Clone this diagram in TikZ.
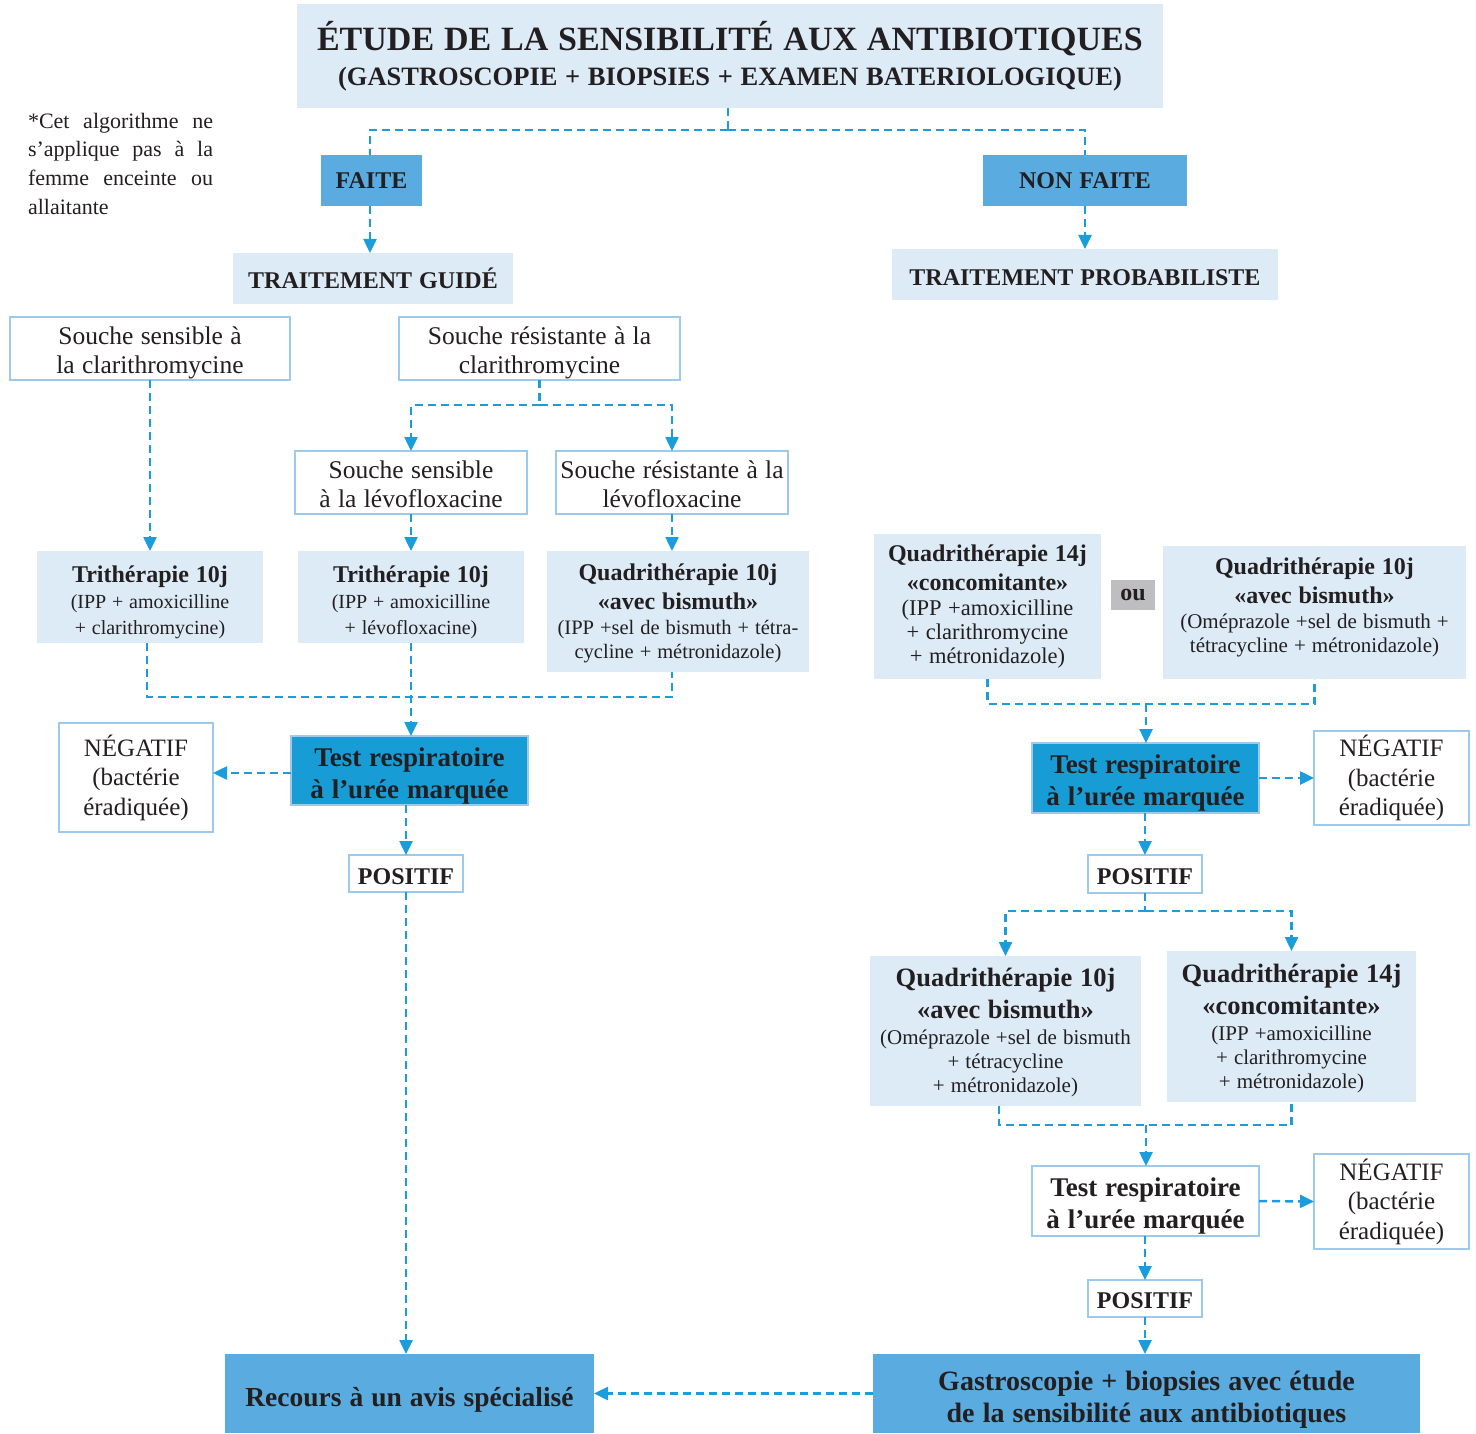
\documentclass[tikz,border=0pt]{standalone}
\usepackage{fontspec}
\setmainfont{Liberation Serif}
\usetikzlibrary{arrows.meta}
\setlength{\parindent}{0pt}
\setlength{\parskip}{0pt}
\definecolor{lightfill}{RGB}{221,235,247}
\definecolor{midblue}{RGB}{90,172,224}
\definecolor{darkblue}{RGB}{24,156,214}
\definecolor{bordc}{RGB}{157,201,237}
\definecolor{arrc}{RGB}{26,157,218}
\definecolor{greyc}{RGB}{190,190,192}
\definecolor{txt}{RGB}{35,31,32}
\newcommand\mkline[3]{{\fontsize{#1}{#2}\selectfont\spaceskip=.29em plus .2em minus .05em\relax #3\par}}
\newcommand\mkbold[3]{{\fontsize{#1}{#2}\selectfont\bfseries\spaceskip=.29em plus .2em minus .05em\relax #3\par}}
\begin{document}
\begin{tikzpicture}[x=1pt,y=-1pt,
  box/.style={rectangle, inner sep=0pt, outer sep=0pt, align=flush center, text=txt},
  wh/.style 2 args={minimum width=#1pt, minimum height=#2pt, text width=#1pt},
  lbox/.style={box, fill=lightfill},
  mbox/.style={box, fill=midblue},
  wbox/.style={box, fill=white, draw=bordc, line width=2.5pt},
  dbox/.style={box, fill=darkblue, draw=bordc, line width=2.5pt},
  gbox/.style={box, fill=greyc},
  conn/.style={draw=arrc, line width=2.5pt, dash pattern=on 8pt off 5pt},
  arr/.style={conn, -{Triangle[length=14pt,width=13pt]}}]
\useasboundingbox (0,0) rectangle (1476,1434);

% ---- top ----
\node[lbox, wh={866}{104}] (title) at (730,56)
 {\mkbold{34}{38}{ÉTUDE DE LA SENSIBILITÉ AUX ANTIBIOTIQUES}\mkbold{26.5}{35.5}{(GASTROSCOPIE + BIOPSIES + EXAMEN BATERIOLOGIQUE)}};
\node[box, align=flush left, text width=185pt, anchor=north west] (note) at (28,113)
 {\mkline{22}{28.7}{\makebox[185pt][s]{*Cet algorithme ne}}\mkline{22}{28.7}{\makebox[185pt][s]{s’applique pas à la}}\mkline{22}{28.7}{\makebox[185pt][s]{femme enceinte ou}}\mkline{22}{28.7}{allaitante}};
\node[mbox, wh={101}{51}] (faite) at (371.5,180.5) {\mkbold{24}{28}{FAITE}};
\node[mbox, wh={204}{51}] (nonfaite) at (1085,180.5) {\mkbold{24}{28}{NON FAITE}};
\node[lbox, wh={280}{51}] (tg) at (373,278.5) {\mkbold{24}{28}{TRAITEMENT GUIDÉ}};
\node[lbox, wh={386}{51}, text height=22pt] (tp) at (1085,274.5) {\mkbold{24}{28}{TRAITEMENT PROBABILISTE}};

% ---- left branch ----
\node[wbox, wh={280}{63}, text height=25.6pt] (ssc) at (150,348.5) {\mkline{25.5}{29}{Souche sensible à}\mkline{25.5}{29}{la clarithromycine}};
\node[wbox, wh={281}{63}, text height=25.6pt] (src) at (539.5,348.5) {\mkline{25.5}{29}{Souche résistante à la}\mkline{25.5}{29}{clarithromycine}};
\node[wbox, wh={232}{63}, text height=21.6pt] (ssl) at (411,482.5) {\mkline{25.5}{29}{Souche sensible}\mkline{25.5}{29}{à la lévofloxacine}};
\node[wbox, wh={232}{63}, text height=21.6pt] (srl) at (672,482.5) {\mkline{25.5}{29}{Souche résistante à la}\mkline{25.5}{29}{lévofloxacine}};
\node[lbox, wh={226}{92}, text height=27.8pt] (t1) at (150,597) {\mkbold{24}{26}{Trithérapie 10j}\mkline{20}{26}{(IPP + amoxicilline}\mkline{20}{26}{+ clarithromycine)}};
\node[lbox, wh={226}{92}, text height=27.8pt] (t2) at (411,597) {\mkbold{24}{26}{Trithérapie 10j}\mkline{20}{26}{(IPP + amoxicilline}\mkline{20}{26}{+ lévofloxacine)}};
\node[lbox, wh={262}{121}, text height=20.8pt] (q1) at (678,611.5) {\mkbold{24}{29}{Quadrithérapie 10j}\mkbold{24}{29}{«avec bismuth»}\mkline{20.5}{25}{(IPP +sel de bismuth + tétra-}\mkline{20.5}{24}{cycline + métronidazole)}};
\node[dbox, wh={237}{69}, text height=29pt] (test1) at (409.5,770.5) {\mkbold{27}{32}{Test respiratoire}\mkbold{27}{32}{à l’urée marquée}};
\node[wbox, wh={154}{109}] (neg1) at (136,777.5) {\mkline{25}{29.5}{NÉGATIF}\mkline{25}{29.5}{(bactérie}\mkline{25}{29.5}{éradiquée)}};
\node[wbox, wh={114}{37}, text height=22pt] (pos1) at (406,873.5) {\mkbold{24}{28}{POSITIF}};
\node[mbox, wh={369}{79}, text height=31pt] (recours) at (409.5,1393.5) {\mkbold{27.5}{32}{Recours à un avis spécialisé}};

% ---- right branch ----
\node[lbox, wh={227}{145}] (qa) at (987.5,606.5) {\mkbold{24}{29}{Quadrithérapie 14j}\mkbold{24}{29}{«concomitante»}\mkline{22.5}{25}{(IPP +amoxicilline}\mkline{22.5}{24}{+ clarithromycine}\mkline{22.5}{24}{+ métronidazole)}};
\node[gbox, wh={44}{30}] (ou) at (1133,595) {\mkbold{24}{28}{ou}};
\node[lbox, wh={303}{133}, text height=6.6pt] (qb) at (1314.5,612.5) {\mkbold{24}{29}{Quadrithérapie 10j}\mkbold{24}{29}{«avec bismuth»}\mkline{21}{25}{(Oméprazole +sel de bismuth +}\mkline{21}{24}{tétracycline + métronidazole)}};
\node[dbox, wh={227}{70}, text height=29pt] (test2) at (1145.5,778) {\mkbold{27}{32}{Test respiratoire}\mkbold{27}{32}{à l’urée marquée}};
\node[wbox, wh={155}{94}] (neg2) at (1391.5,778) {\mkline{25}{29.5}{NÉGATIF}\mkline{25}{29.5}{(bactérie}\mkline{25}{29.5}{éradiquée)}};
\node[wbox, wh={114}{38}, text height=21pt] (pos2) at (1145,874) {\mkbold{24}{28}{POSITIF}};
\node[lbox, wh={271}{150}, text height=22.3pt] (qc) at (1005.5,1031) {\mkbold{26.5}{32}{Quadrithérapie 10j}\mkbold{26.5}{32}{«avec bismuth»}\mkline{21}{26}{(Oméprazole +sel de bismuth}\mkline{21}{24}{+ tétracycline}\mkline{21}{24}{+ métronidazole)}};
\node[lbox, wh={249}{151}, text height=22.3pt] (qd) at (1291.5,1026.5) {\mkbold{26.5}{32}{Quadrithérapie 14j}\mkbold{26.5}{32}{«concomitante»}\mkline{21}{26}{(IPP +amoxicilline}\mkline{21}{24}{+ clarithromycine}\mkline{21}{24}{+ métronidazole)}};
\node[wbox, wh={227}{70}, text height=29pt] (test3) at (1145.5,1201) {\mkbold{27}{32}{Test respiratoire}\mkbold{27}{32}{à l’urée marquée}};
\node[wbox, wh={155}{95}] (neg3) at (1391.5,1201.5) {\mkline{25}{29.5}{NÉGATIF}\mkline{25}{29.5}{(bactérie}\mkline{25}{29.5}{éradiquée)}};
\node[wbox, wh={114}{37}, text height=21pt] (pos3) at (1145,1298.5) {\mkbold{24}{28}{POSITIF}};
\node[mbox, wh={547}{79}, text height=31.5pt] (gastro) at (1146.5,1393.5) {\mkbold{28}{32}{Gastroscopie + biopsies avec étude}\mkbold{28}{32}{de la sensibilité aux antibiotiques}};

% ---- connectors ----
\coordinate (j1) at (728,130);
\draw[conn] (title.south -| j1) -- (j1);
\draw[conn] (j1) -| (faite.north -| 370,0);
\draw[conn] (j1) -| (nonfaite.north);
\draw[arr] (faite.south -| 370,0) -- (tg.north -| 370,0);
\draw[arr] (nonfaite.south) -- (tp.north);
\draw[arr] (ssc.south) -- (t1.north);
\coordinate (j2) at (539.5,405);
\draw[conn] (src.south) -- (j2);
\draw[arr] (j2) -| (ssl.north);
\draw[arr] (j2) -| (srl.north);
\draw[arr] (ssl.south) -- (t2.north);
\draw[arr] (srl.south) -- (srl.south |- q1.north);
\coordinate (m1) at (411,697);
\draw[conn] (t1.south -| 147,0) |- (m1) -| (srl.south |- q1.south);
\draw[arr] (t2.south) -- (test1.north -| t2.south);
\draw[arr] (test1.west |- 0,773) -- (neg1.east |- 0,773);
\draw[arr] (test1.south -| pos1.north) -- (pos1.north);
\draw[arr] (pos1.south) -- (pos1.south |- recours.north);
\draw[arr] (gastro.west) -- (recours.east);

\coordinate (m2) at (1146,704);
\draw[conn] (qa.south) |- (m2) -| (qb.south);
\draw[arr] (m2) -- (m2 |- test2.north);
\draw[arr] (test2.east) -- (neg2.west);
\draw[arr] (test2.south -| pos2.north) -- (pos2.north);
\coordinate (j4) at (1146,911);
\draw[conn] (pos2.south) -- (pos2.south |- j4);
\draw[arr] (j4) -| (qc.north);
\draw[arr] (j4) -| (qd.north);
\coordinate (m3) at (1146,1125);
\draw[conn] (qc.south -| 999,0) |- (m3) -| (qd.south);
\draw[arr] (m3) -- (m3 |- test3.north);
\draw[arr] (test3.east) -- (neg3.west);
\draw[arr] (test3.south -| pos3.north) -- (pos3.north);
\draw[arr] (pos3.south) -- (pos3.south |- gastro.north);
\end{tikzpicture}
\end{document}
